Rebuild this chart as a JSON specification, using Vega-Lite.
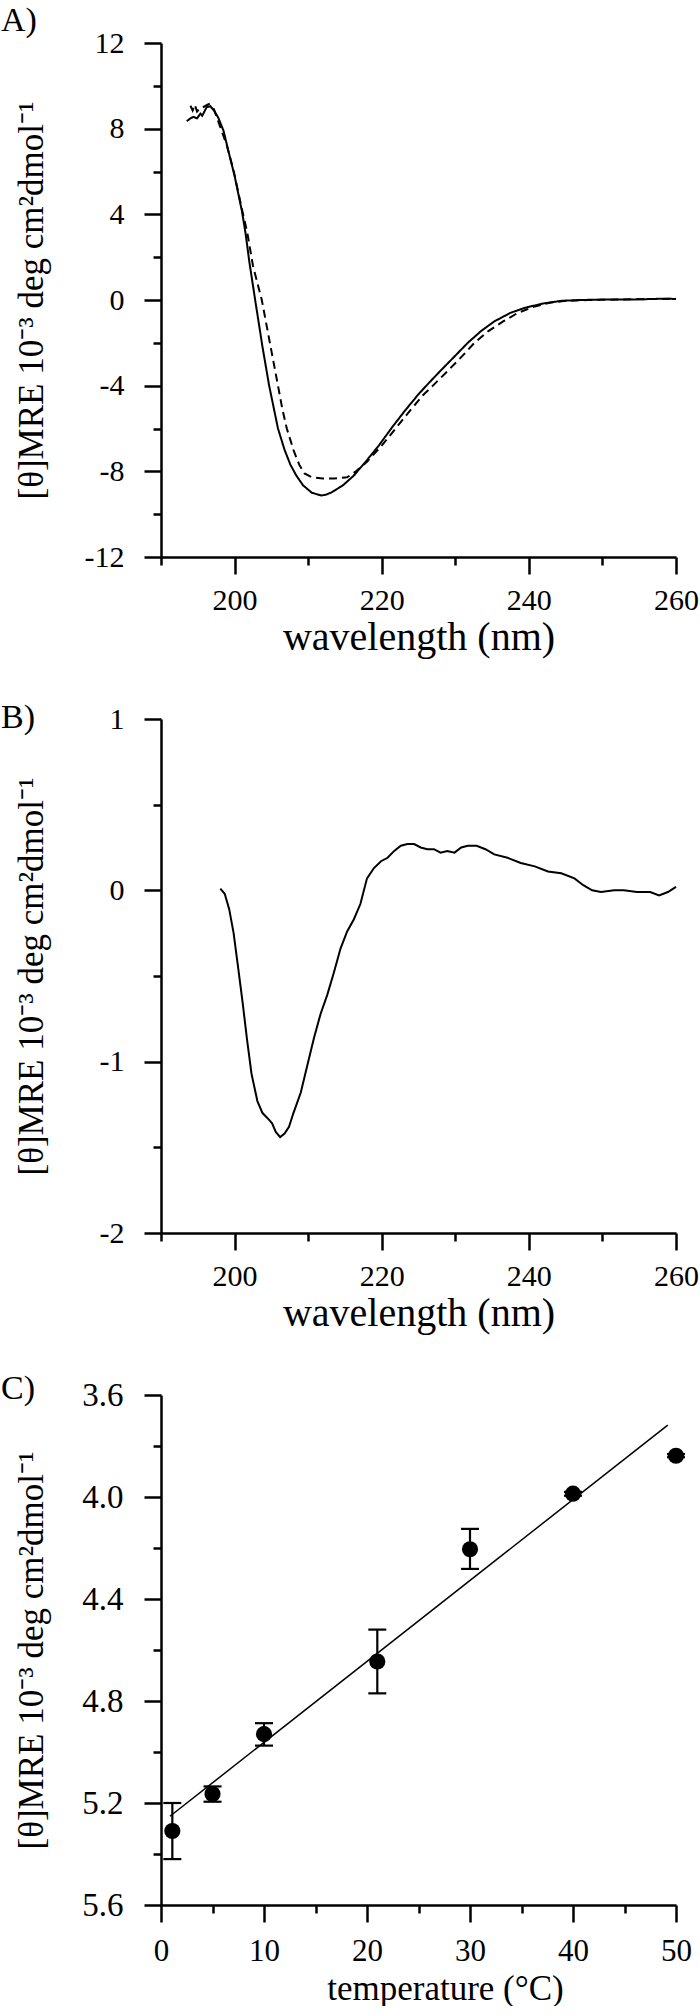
{
  "$schema": "https://vega.github.io/schema/vega-lite/v6.json",
  "background": "white",
  "padding": {"left": 0, "top": 4, "right": 5, "bottom": 0},
  "bounds": "flush",
  "spacing": 162,
  "config": {
    "view": {"stroke": null},
    "font": "Liberation Serif",
    "axis": {
      "domainColor": "black", "domainWidth": 2.5,
      "tickColor": "black", "tickWidth": 2.5,
      "labelColor": "black", "titleColor": "black",
      "titleFontWeight": "normal", "grid": false,
      "labelFont": "Liberation Serif", "titleFont": "Liberation Serif",
      "labelFlush": false, "labelOverlap": false, "labelBound": false
    },
    "title": {"font": "Liberation Serif", "fontWeight": "normal", "color": "black", "fontSize": 34, "anchor": "start", "frame": "bounds", "baseline": "alphabetic"}
  },
  "datasets": {
    "specA": [
      {"s":"solid","wl":193.5,"v":8.35},{"s":"solid","wl":194.0,"v":8.48},{"s":"solid","wl":194.4,"v":8.55},{"s":"solid","wl":194.9,"v":8.48},
      {"s":"solid","wl":195.35,"v":8.7},{"s":"solid","wl":195.6,"v":8.6},{"s":"solid","wl":196.2,"v":9.0},{"s":"solid","wl":196.7,"v":9.05},
      {"s":"solid","wl":197.2,"v":8.85},{"s":"solid","wl":197.8,"v":8.5},{"s":"solid","wl":198.5,"v":7.9},{"s":"solid","wl":199.2,"v":6.9},
      {"s":"solid","wl":200.0,"v":5.8},{"s":"solid","wl":201.0,"v":4.15},{"s":"solid","wl":201.5,"v":3.1},{"s":"solid","wl":202.0,"v":1.8},
      {"s":"solid","wl":202.8,"v":0.0},{"s":"solid","wl":203.8,"v":-2.2},{"s":"solid","wl":204.7,"v":-4.0},{"s":"solid","wl":205.3,"v":-5.0},
      {"s":"solid","wl":205.9,"v":-6.0},{"s":"solid","wl":206.8,"v":-7.0},{"s":"solid","wl":207.6,"v":-7.7},{"s":"solid","wl":208.4,"v":-8.2},
      {"s":"solid","wl":209.3,"v":-8.65},{"s":"solid","wl":210.5,"v":-9.0},{"s":"solid","wl":211.8,"v":-9.13},{"s":"solid","wl":212.5,"v":-9.08},
      {"s":"solid","wl":213.2,"v":-8.98},{"s":"solid","wl":214.7,"v":-8.66},{"s":"solid","wl":216.2,"v":-8.2},{"s":"solid","wl":217.7,"v":-7.6},
      {"s":"solid","wl":219.6,"v":-6.8},{"s":"solid","wl":221.4,"v":-5.95},{"s":"solid","wl":223.2,"v":-5.15},{"s":"solid","wl":225.0,"v":-4.4},
      {"s":"solid","wl":226.2,"v":-3.95},{"s":"solid","wl":228.0,"v":-3.3},{"s":"solid","wl":230.0,"v":-2.6},{"s":"solid","wl":231.7,"v":-2.0},
      {"s":"solid","wl":233.5,"v":-1.45},{"s":"solid","wl":235.3,"v":-1.0},{"s":"solid","wl":237.5,"v":-0.6},{"s":"solid","wl":239.5,"v":-0.36},
      {"s":"solid","wl":242.0,"v":-0.16},{"s":"solid","wl":244.4,"v":-0.04},{"s":"solid","wl":247,"v":0.0},{"s":"solid","wl":250,"v":0.02},
      {"s":"solid","wl":255,"v":0.03},{"s":"solid","wl":258,"v":0.06},{"s":"solid","wl":260,"v":0.05},
      {"s":"dashed","wl":194.0,"v":9.07},{"s":"dashed","wl":194.3,"v":8.85},{"s":"dashed","wl":194.6,"v":9.12},{"s":"dashed","wl":194.9,"v":8.8},
      {"s":"dashed","wl":195.3,"v":8.95},{"s":"dashed","wl":195.7,"v":9.0},{"s":"dashed","wl":196.5,"v":9.15},{"s":"dashed","wl":197.2,"v":8.9},
      {"s":"dashed","wl":198.06,"v":8.07},{"s":"dashed","wl":198.96,"v":7.2},{"s":"dashed","wl":199.87,"v":6.04},{"s":"dashed","wl":200.99,"v":4.25},
      {"s":"dashed","wl":201.7,"v":3.2},{"s":"dashed","wl":202.5,"v":1.6},{"s":"dashed","wl":203.7,"v":0.0},{"s":"dashed","wl":204.8,"v":-2.0},
      {"s":"dashed","wl":205.9,"v":-4.0},{"s":"dashed","wl":206.5,"v":-5.1},{"s":"dashed","wl":207.1,"v":-6.0},{"s":"dashed","wl":208.0,"v":-7.0},
      {"s":"dashed","wl":208.8,"v":-7.7},{"s":"dashed","wl":209.5,"v":-8.1},{"s":"dashed","wl":210.5,"v":-8.28},{"s":"dashed","wl":212,"v":-8.33},
      {"s":"dashed","wl":213.5,"v":-8.33},{"s":"dashed","wl":215.3,"v":-8.28},{"s":"dashed","wl":216.5,"v":-8.0},{"s":"dashed","wl":218,"v":-7.55},
      {"s":"dashed","wl":220,"v":-6.8},{"s":"dashed","wl":222,"v":-5.95},{"s":"dashed","wl":224,"v":-5.1},{"s":"dashed","wl":225.6,"v":-4.45},
      {"s":"dashed","wl":227.1,"v":-3.95},{"s":"dashed","wl":229,"v":-3.3},{"s":"dashed","wl":231,"v":-2.6},{"s":"dashed","wl":232.6,"v":-2.0},
      {"s":"dashed","wl":234.5,"v":-1.45},{"s":"dashed","wl":236.5,"v":-1.0},{"s":"dashed","wl":238.5,"v":-0.6},{"s":"dashed","wl":240.8,"v":-0.3},
      {"s":"dashed","wl":243,"v":-0.12},{"s":"dashed","wl":245,"v":-0.04},{"s":"dashed","wl":248,"v":0.0},{"s":"dashed","wl":252,"v":0.02},
      {"s":"dashed","wl":256,"v":0.04},{"s":"dashed","wl":260,"v":0.06}
    ],
    "specB": [
      {"wl":198.06,"v":0.01},{"wl":198.66,"v":-0.02},{"wl":199.27,"v":-0.11},{"wl":199.87,"v":-0.25},{"wl":200.48,"v":-0.45},
      {"wl":201.08,"v":-0.65},{"wl":201.69,"v":-0.87},{"wl":202.3,"v":-1.07},{"wl":203.1,"v":-1.23},{"wl":203.8,"v":-1.30},
      {"wl":204.7,"v":-1.34},{"wl":205.1,"v":-1.36},{"wl":205.6,"v":-1.41},{"wl":206.2,"v":-1.44},{"wl":206.8,"v":-1.42},
      {"wl":207.4,"v":-1.38},{"wl":208.0,"v":-1.30},{"wl":209.0,"v":-1.18},{"wl":209.9,"v":-1.02},{"wl":210.8,"v":-0.86},
      {"wl":211.7,"v":-0.72},{"wl":212.6,"v":-0.61},{"wl":213.5,"v":-0.48},{"wl":214.4,"v":-0.34},{"wl":215.3,"v":-0.24},
      {"wl":216.2,"v":-0.17},{"wl":217.1,"v":-0.08},{"wl":218.0,"v":0.07},{"wl":218.95,"v":0.13},{"wl":219.9,"v":0.17},
      {"wl":220.8,"v":0.19},{"wl":221.7,"v":0.23},{"wl":222.6,"v":0.26},{"wl":223.5,"v":0.27},{"wl":224.4,"v":0.27},
      {"wl":225.3,"v":0.25},{"wl":226.2,"v":0.24},{"wl":227.1,"v":0.24},{"wl":228.0,"v":0.22},{"wl":228.9,"v":0.23},
      {"wl":229.9,"v":0.22},{"wl":230.8,"v":0.25},{"wl":231.7,"v":0.26},{"wl":232.9,"v":0.26},{"wl":234.1,"v":0.24},
      {"wl":235.3,"v":0.21},{"wl":237.1,"v":0.19},{"wl":238.9,"v":0.16},{"wl":240.8,"v":0.14},{"wl":242.6,"v":0.11},
      {"wl":244.4,"v":0.10},{"wl":246.2,"v":0.07},{"wl":247.4,"v":0.03},{"wl":248.6,"v":0.0},{"wl":249.8,"v":-0.01},
      {"wl":251.6,"v":0.0},{"wl":252.9,"v":0.0},{"wl":254.7,"v":-0.01},{"wl":256.5,"v":-0.01},{"wl":257.7,"v":-0.03},
      {"wl":258.9,"v":-0.01},{"wl":260,"v":0.02}
    ],
    "tempC": [
      {"t":1.1,"y":5.31,"lo":5.2,"hi":5.42},
      {"t":5,"y":5.165,"lo":5.135,"hi":5.195},
      {"t":10,"y":4.93,"lo":4.887,"hi":4.975},
      {"t":21,"y":4.645,"lo":4.52,"hi":4.77},
      {"t":30,"y":4.205,"lo":4.125,"hi":4.282},
      {"t":40,"y":3.987,"lo":3.98,"hi":3.995},
      {"t":50,"y":3.838,"lo":3.832,"hi":3.844}
    ],
    "fitC": [
      {"t":0.87,"y":5.252},
      {"t":49.2,"y":3.718}
    ]
  },
  "vconcat": [
    {
      "title": {"text": "A)", "offset": -10, "dx": -13},
      "width": 515, "height": 514,
      "data": {"name": "specA"},
      "mark": {"type": "line", "color": "black", "strokeWidth": 2},
      "encoding": {
        "x": {"field": "wl", "type": "quantitative",
          "scale": {"domain": [190, 260], "nice": false, "zero": false},
          "axis": {"values": [190,200,210,220,230,240,250,260],
            "labelExpr": "datum.value % 20 == 0 ? '' + datum.value : ''",
            "tickSize": {"condition": {"test": "datum.value % 20 == 0", "value": 17}, "value": 8},
            "labelFontSize": 30, "labelPadding": 11,
            "title": "wavelength (nm)", "titleFontSize": 40, "titleBaseline": "alphabetic", "titleY": 92}},
        "y": {"field": "v", "type": "quantitative",
          "scale": {"domain": [-12, 12], "nice": false, "zero": false},
          "axis": {"values": [-12,-10,-8,-6,-4,-2,0,2,4,6,8,10,12],
            "labelExpr": "datum.value % 4 == 0 ? '' + datum.value : ''",
            "tickSize": {"condition": {"test": "datum.value % 4 == 0", "value": 17}, "value": 8},
            "labelFontSize": 30, "labelPadding": 20,
            "title": "[θ]MRE 10⁻³ deg cm²dmol⁻¹", "titleFontSize": 35, "titleBaseline": "alphabetic", "titleX": -119}},
        "strokeDash": {"field": "s", "type": "nominal",
          "scale": {"domain": ["solid", "dashed"], "range": [[1, 0], [8, 5]]}, "legend": null}
      }
    },
    {
      "title": {"text": "B)", "offset": -31, "dx": -13},
      "width": 515, "height": 514,
      "data": {"name": "specB"},
      "mark": {"type": "line", "color": "black", "strokeWidth": 2},
      "encoding": {
        "x": {"field": "wl", "type": "quantitative",
          "scale": {"domain": [190, 260], "nice": false, "zero": false},
          "axis": {"values": [190,200,210,220,230,240,250,260],
            "labelExpr": "datum.value % 20 == 0 ? '' + datum.value : ''",
            "tickSize": {"condition": {"test": "datum.value % 20 == 0", "value": 17}, "value": 8},
            "labelFontSize": 30, "labelPadding": 11,
            "title": "wavelength (nm)", "titleFontSize": 40, "titleBaseline": "alphabetic", "titleY": 92}},
        "y": {"field": "v", "type": "quantitative",
          "scale": {"domain": [-2, 1], "nice": false, "zero": false},
          "axis": {"values": [-2,-1.5,-1,-0.5,0,0.5,1],
            "labelExpr": "datum.value % 1 == 0 ? '' + datum.value : ''",
            "tickSize": {"condition": {"test": "datum.value % 1 == 0", "value": 17}, "value": 8},
            "labelFontSize": 30, "labelPadding": 20,
            "title": "[θ]MRE 10⁻³ deg cm²dmol⁻¹", "titleFontSize": 35, "titleBaseline": "alphabetic", "titleX": -119}}
      }
    },
    {
      "title": {"text": "C)", "offset": -27, "dx": -13},
      "width": 515, "height": 510,
      "layer": [
        {
          "data": {"name": "fitC"},
          "mark": {"type": "line", "color": "black", "strokeWidth": 1.5},
          "encoding": {
            "x": {"field": "t", "type": "quantitative"},
            "y": {"field": "y", "type": "quantitative"}
          }
        },
        {
          "data": {"name": "tempC"},
          "mark": {"type": "rule", "color": "black", "strokeWidth": 2.2},
          "encoding": {
            "x": {"field": "t", "type": "quantitative"},
            "y": {"field": "lo", "type": "quantitative"},
            "y2": {"field": "hi"}
          }
        },
        {
          "data": {"name": "tempC"},
          "mark": {"type": "tick", "orient": "horizontal", "color": "black", "size": 18, "thickness": 2.2, "opacity": 1},
          "encoding": {
            "x": {"field": "t", "type": "quantitative"},
            "y": {"field": "lo", "type": "quantitative"}
          }
        },
        {
          "data": {"name": "tempC"},
          "mark": {"type": "tick", "orient": "horizontal", "color": "black", "size": 18, "thickness": 2.2, "opacity": 1},
          "encoding": {
            "x": {"field": "t", "type": "quantitative"},
            "y": {"field": "hi", "type": "quantitative"}
          }
        },
        {
          "data": {"name": "tempC"},
          "mark": {"type": "circle", "color": "black", "size": 260, "opacity": 1},
          "encoding": {
            "x": {"field": "t", "type": "quantitative",
              "scale": {"domain": [0, 50], "nice": false, "zero": false},
              "axis": {"values": [0,5,10,15,20,25,30,35,40,45,50],
                "labelExpr": "datum.value % 10 == 0 ? '' + datum.value : ''",
                "tickSize": {"condition": {"test": "datum.value % 10 == 0", "value": 17}, "value": 8},
                "labelFontSize": 31, "labelPadding": 14,
                "title": "temperature (°C)", "titleFontSize": 35, "titleBaseline": "alphabetic", "titleY": 94, "titleX": 284}},
            "y": {"field": "y", "type": "quantitative",
              "scale": {"domain": [3.6, 5.6], "nice": false, "zero": false, "reverse": true},
              "axis": {"values": [3.6,3.8,4.0,4.2,4.4,4.6,4.8,5.0,5.2,5.4,5.6],
                "labelExpr": "round(datum.value * 10) % 4 == 0 ? format(datum.value, '.1f') : ''",
                "tickSize": {"condition": {"test": "round(datum.value * 10) % 4 == 0", "value": 17}, "value": 8},
                "labelFontSize": 33, "labelPadding": 21,
                "title": "[θ]MRE 10⁻³ deg cm²dmol⁻¹", "titleFontSize": 35, "titleBaseline": "alphabetic", "titleX": -119}}
          }
        }
      ]
    }
  ]
}
